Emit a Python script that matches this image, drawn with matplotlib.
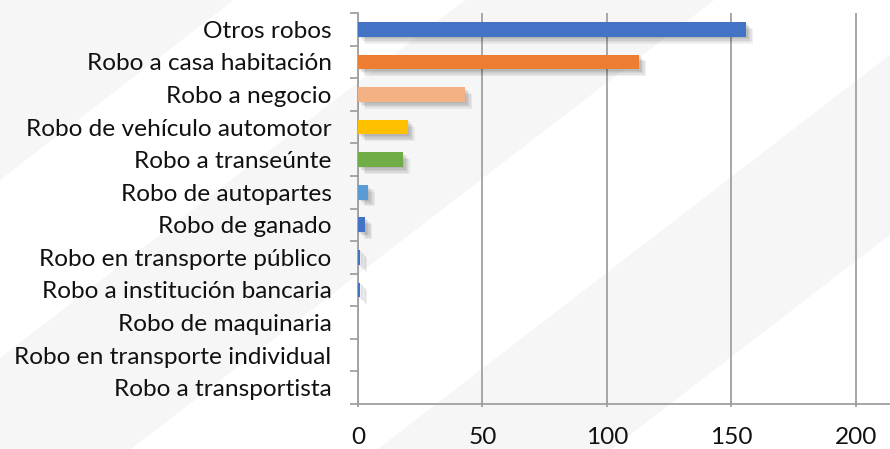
import matplotlib
matplotlib.use("Agg")
import matplotlib.pyplot as plt
import matplotlib.patheffects as pe
import numpy as np
from matplotlib.patches import Polygon

# Data
categorias = ["Otros robos", "Robo a casa habitación", "Robo a negocio",
              "Robo de vehículo automotor", "Robo a transeúnte", "Robo de autopartes",
              "Robo de ganado", "Robo en transporte público", "Robo a institución bancaria",
              "Robo de maquinaria", "Robo en transporte individual", "Robo a transportista"]
valores = [156, 113, 43, 20, 18, 4, 3, 1, 1, 0, 0, 0]
colores = ["#4472C4", "#ED7D31", "#F4B183", "#FFC000", "#70AD47", "#5B9BD5",
           "#4472C4", "#4472C4", "#4472C4", "#4472C4", "#4472C4", "#4472C4"]
xticks = [0, 50, 100, 150, 200]

plt.rcParams['font.family'] = ['Lato', 'DejaVu Sans']

W, H = 890, 449
fig = plt.figure(figsize=(W / 100, H / 100), dpi=100, facecolor="white")

# background with faint diagonal bands (pixel coords, y down)
bg = fig.add_axes([0, 0, 1, 1], zorder=-5)
bg.set_xlim(0, W)
bg.set_ylim(H, 0)
bg.axis("off")
k = 0.77
for c1, c2 in [(-400, 180), (358, 550), (740, 920)]:
    pts = [(-200, c1 + k * 200), (1200, c1 - k * 1200), (1200, c2 - k * 1200), (-200, c2 + k * 200)]
    bg.add_patch(Polygon(pts, closed=True, facecolor="#F6F6F6", edgecolor="none"))

ax = fig.add_axes([358 / W, 1 - 404 / H, 1 - 358 / W, 391 / H])
ax.patch.set_alpha(0)

y = np.arange(len(categorias))
bars = ax.barh(y, valores, height=0.45, color=colores, zorder=3)

# soft drop shadow
sombra = [pe.SimplePatchShadow(offset=(d, -d), shadow_rgbFace="black", alpha=0.06) for d in (1, 2, 3, 4, 5)]
for b in bars:
    if b.get_width() > 0:
        b.set_path_effects(sombra + [pe.Normal()])

ax.set_xlim(0, (W - 358) / ((855.8 - 358) / 200))
ax.set_ylim(len(categorias) - 0.5, -0.5)

ax.set_yticks(y)
ax.set_yticklabels(categorias, fontsize=17.6, color="#111111")
ax.set_yticks(np.arange(-0.5, len(categorias)), minor=True)
ax.tick_params(axis="y", which="major", length=0, pad=19)
ax.tick_params(axis="y", which="minor", length=6, width=1.3, color="#A0A0A0", direction="out")

ax.set_xticks(xticks)
ax.set_xticklabels([str(v) for v in xticks], fontsize=17.6, color="#111111")
ax.tick_params(axis="x", length=5, width=1.3, color="#A0A0A0", direction="inout", pad=14)

ax.grid(axis="x", color="#A0A0A0", linewidth=1.3, zorder=0)
ax.set_axisbelow(True)
for s in ["top", "right"]:
    ax.spines[s].set_visible(False)
for s in ["left", "bottom"]:
    ax.spines[s].set_color("#A0A0A0")
    ax.spines[s].set_linewidth(1.3)

fig.savefig("out.png", dpi=100, facecolor="white")
